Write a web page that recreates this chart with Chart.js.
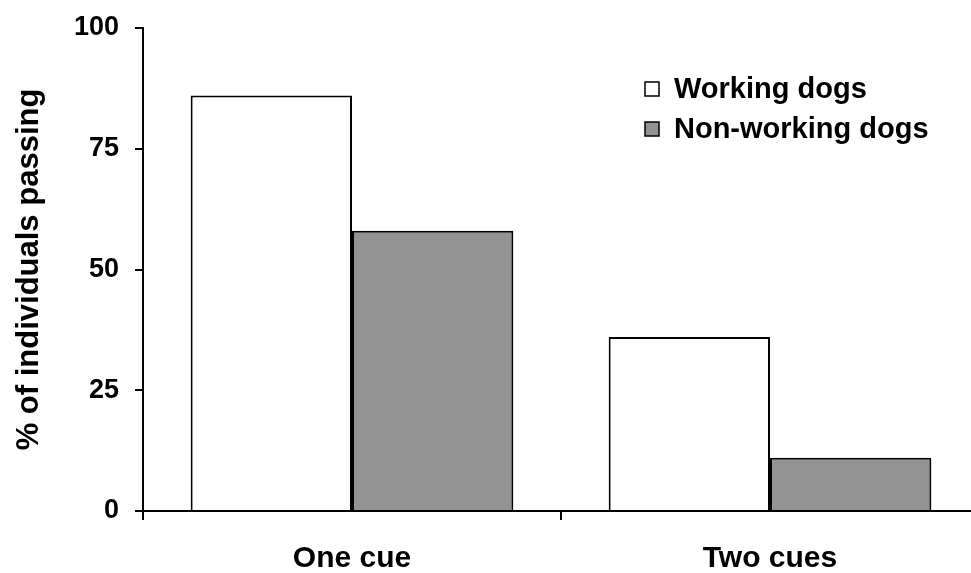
<!DOCTYPE html>
<html>
<head>
<meta charset="utf-8">
<script src="https://cdn.jsdelivr.net/npm/chart.js@4.4.1/dist/chart.umd.min.js"></script>
<style>
  html, body { margin: 0; padding: 0; background: #fff; overflow: hidden; }
  #wrap { width: 971px; height: 573px; overflow: hidden; }
  canvas { display: block; }
</style>
</head>
<body>
<div id="wrap"><canvas id="chart" width="990" height="573"></canvas></div>
<script>
const categories = ['One cue', 'Two cues'];
const workingDogs = [86, 36];
const nonWorkingDogs = [58, 11];
const yTicks = [0, 25, 50, 75, 100];

const FONT = "'Liberation Sans', Arial, Helvetica, sans-serif";

// legend drawn by hand so it can sit inside the plot, top right
const boxLegend = {
  id: 'boxLegend',
  afterDraw(chart) {
    const ctx = chart.ctx;
    ctx.save();
    ctx.font = `bold 29px ${FONT}`;
    ctx.textBaseline = 'middle';
    chart.data.datasets.forEach((ds, i) => {
      const y = 89 + i * 40;
      ctx.fillStyle = ds.backgroundColor;
      ctx.fillRect(645, y - 7, 14, 14);
      ctx.lineWidth = 1.5;
      ctx.strokeStyle = '#000';
      ctx.strokeRect(645, y - 7, 14, 14);
      ctx.fillStyle = '#000';
      ctx.fillText(ds.label, 674, y + 1);
    });
    ctx.restore();
  }
};

new Chart(document.getElementById('chart'), {
  type: 'bar',
  plugins: [boxLegend],
  data: {
    labels: categories,
    datasets: [
      {
        label: 'Working dogs',
        data: workingDogs,
        backgroundColor: '#ffffff',
        borderColor: '#000',
        borderWidth: 2,
      },
      {
        label: 'Non-working dogs',
        data: nonWorkingDogs,
        backgroundColor: '#939393',
        borderColor: '#000',
        borderWidth: 2,
      }
    ]
  },
  options: {
    responsive: false,
    animation: false,
    events: [],
    layout: { padding: { top: 28, right: 11, bottom: 0, left: 0 } },
    datasets: { bar: { categoryPercentage: 0.772, barPercentage: 1.0 } },
    plugins: {
      legend: { display: false },
      tooltip: { enabled: false },
    },
    scales: {
      x: {
        afterFit: s => { s.height = 62; s.paddingLeft = 0; s.paddingRight = 0; },
        grid: { drawOnChartArea: false, drawTicks: true, tickLength: 9, color: '#000', lineWidth: 2, offset: true },
        border: { color: '#000', width: 2 },
        ticks: { color: '#000', padding: 21, font: { family: FONT, size: 30, weight: 'bold' } },
      },
      y: {
        min: 0,
        max: 100,
        afterFit: s => { s.width = 143; s.paddingTop = 0; s.paddingBottom = 0; },
        afterBuildTicks: s => { s.ticks = yTicks.map(v => ({ value: v })); },
        grid: { drawOnChartArea: false, drawTicks: true, tickLength: 8, color: '#000', lineWidth: 2 },
        border: { color: '#000', width: 2 },
        ticks: { color: '#000', padding: 16, font: { family: FONT, size: 27, weight: 'bold' } },
        title: {
          display: true,
          text: '% of individuals passing',
          color: '#000',
          padding: { top: 11, bottom: 0 },
          font: { family: FONT, size: 31, weight: 'bold' },
        },
      }
    }
  }
});
</script>
</body>
</html>
